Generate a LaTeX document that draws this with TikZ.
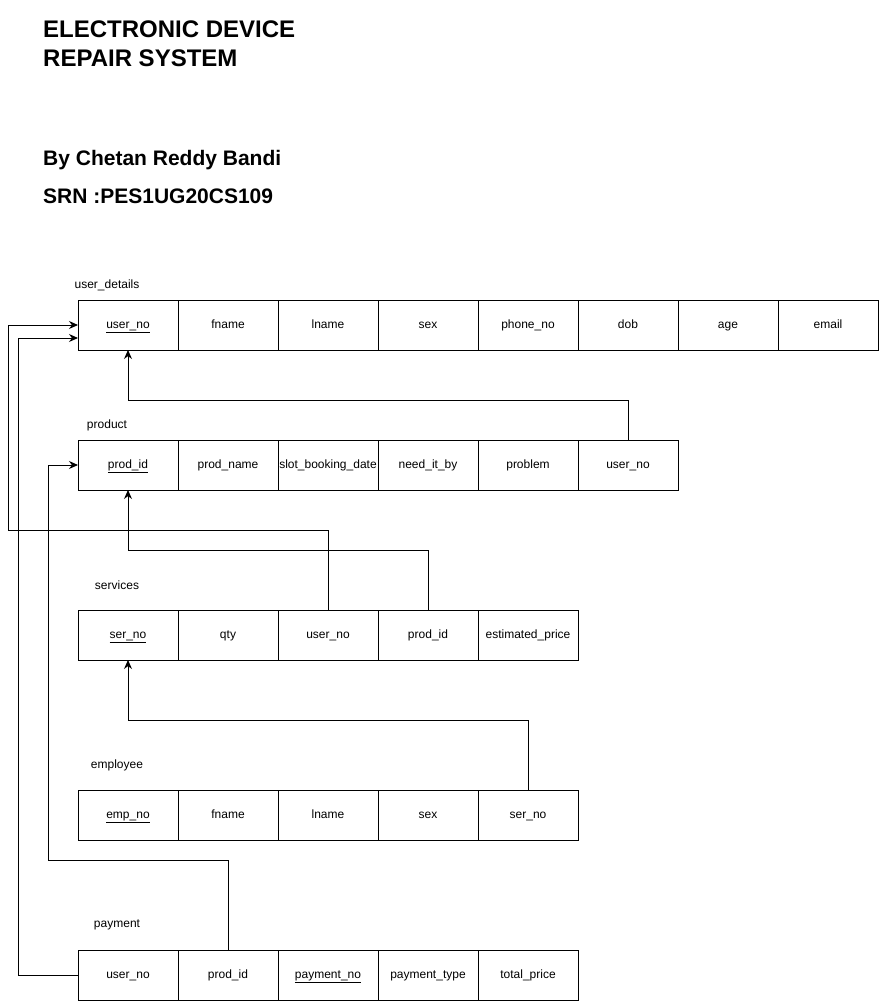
\documentclass[tikz,border=0pt]{standalone}
\usepackage{fontspec}
\setmainfont{Liberation Sans}
\usetikzlibrary{calc,positioning,arrows.meta}
\tikzset{
  cell/.style={draw, line width=1pt, minimum width=100pt, minimum height=50pt,
    inner sep=0pt, outer sep=0pt, text height=8.6pt, text depth=2.6pt,
    font=\fontsize{12}{14}\selectfont},
  tablename/.style={inner sep=0pt, font=\fontsize{12}{14}\selectfont},
  heading/.style={anchor=base west, inner sep=0pt, font=\bfseries\fontsize{24}{29}\selectfont},
  byline/.style={anchor=base west, inner sep=0pt, font=\bfseries\fontsize{21}{25}\selectfont},
  fk/.style={line width=1pt, -{Stealth[length=9pt,width=8pt]}},
}
\def\cellnode{\node[cell]}
\def\drawfk{\draw[fk]}

\begin{document}
\begin{tikzpicture}[x=1pt,y=-1pt]
\useasboundingbox (0,0) rectangle (878,1001);

% ---------- heading ----------
\node[heading] (title_a) at (43,37.5) {ELECTRONIC DEVICE};
\node[heading] (title_b) at (43,66.5) {REPAIR SYSTEM};
\node[byline] (author) at (43,165) {By Chetan Reddy Bandi};
\node[byline] (srn) at (43,203) {SRN :PES1UG20CS109};

% ---------- user_details ----------
\node[tablename] (ud_name) at (107,285) {user\_details};
\cellnode (ud_user_no) at (128,325) {\underline{user\_no}};
\cellnode[right=0pt of ud_user_no] (ud_fname) {fname};
\cellnode[right=0pt of ud_fname] (ud_lname) {lname};
\cellnode[right=0pt of ud_lname] (ud_sex) {sex};
\cellnode[right=0pt of ud_sex] (ud_phone) {phone\_no};
\cellnode[right=0pt of ud_phone] (ud_dob) {dob};
\cellnode[right=0pt of ud_dob] (ud_age) {age};
\cellnode[right=0pt of ud_age] (ud_email) {email};

% ---------- product ----------
\node[tablename] (pr_name) at (107,425) {product};
\cellnode (pr_prod_id) at (128,465) {\underline{prod\_id}};
\cellnode[right=0pt of pr_prod_id] (pr_prod_name) {prod\_name};
\cellnode[right=0pt of pr_prod_name] (pr_slot) {slot\_booking\_date};
\cellnode[right=0pt of pr_slot] (pr_need) {need\_it\_by};
\cellnode[right=0pt of pr_need] (pr_problem) {problem};
\cellnode[right=0pt of pr_problem] (pr_user_no) {user\_no};

% ---------- services ----------
\node[tablename] (sv_name) at (117,585) {services};
\cellnode (sv_ser_no) at (128,635) {\underline{ser\_no}};
\cellnode[right=0pt of sv_ser_no] (sv_qty) {qty};
\cellnode[right=0pt of sv_qty] (sv_user_no) {user\_no};
\cellnode[right=0pt of sv_user_no] (sv_prod_id) {prod\_id};
\cellnode[right=0pt of sv_prod_id] (sv_price) {estimated\_price};

% ---------- employee ----------
\node[tablename] (em_name) at (117,765) {employee};
\cellnode (em_emp_no) at (128,815) {\underline{emp\_no}};
\cellnode[right=0pt of em_emp_no] (em_fname) {fname};
\cellnode[right=0pt of em_fname] (em_lname) {lname};
\cellnode[right=0pt of em_lname] (em_sex) {sex};
\cellnode[right=0pt of em_sex] (em_ser_no) {ser\_no};

% ---------- payment ----------
\node[tablename] (pm_name) at (117,925) {payment};
\cellnode (pm_user_no) at (128,975) {user\_no};
\cellnode[right=0pt of pm_user_no] (pm_prod_id) {prod\_id};
\cellnode[right=0pt of pm_prod_id] (pm_payment_no) {\underline{payment\_no}};
\cellnode[right=0pt of pm_payment_no] (pm_type) {payment\_type};
\cellnode[right=0pt of pm_type] (pm_total) {total\_price};

% ---------- foreign keys ----------
% bends on the left side lanes
\coordinate (lane_outer) at (8,530);
\coordinate (lane_mid) at (18,338);
\coordinate (lane_inner) at (48,860);
\coordinate (ud_low) at ($ (ud_user_no.west) + (0,13) $);

\drawfk (pr_user_no.north) -- ++(0,-40) -| (ud_user_no.south);
\drawfk (sv_user_no.north) |- (lane_outer) |- (ud_user_no.west);
\drawfk (sv_prod_id.north) -- ++(0,-60) -| (pr_prod_id.south);
\drawfk (em_ser_no.north) -- ++(0,-70) -| (sv_ser_no.south);
\drawfk (pm_prod_id.north) |- (lane_inner) |- (pr_prod_id.west);
\drawfk (pm_user_no.west) -| (lane_mid) -- (ud_low);
\end{tikzpicture}
\end{document}
